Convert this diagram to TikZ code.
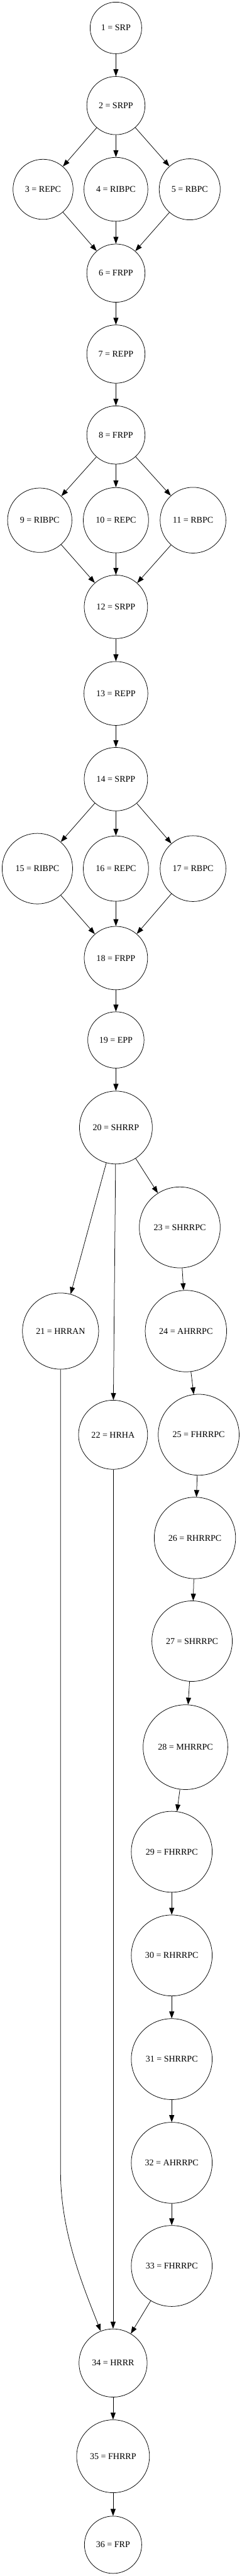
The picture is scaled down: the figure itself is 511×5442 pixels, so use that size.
\documentclass[tikz,border=0pt]{standalone}
\usepackage{fontspec}
\setmainfont{Liberation Serif}
\usetikzlibrary{arrows.meta}
\begin{document}
\begin{tikzpicture}[x=0.75pt,y=-0.75pt,>={Triangle[length=11pt,width=8pt]},line join=round,line width=0.75pt,
		st/.style={circle,draw,inner sep=0pt,minimum size=#1*0.75pt,font=\fontsize{14}{17}\selectfont}]
		\useasboundingbox (0,0) rectangle (511,5442);
		% first block
		\node[st=109] (n1) at (245,59) {1 = SRP};
		\node[st=123] (n2) at (245,223) {2 = SRPP};
		\node[st=127] (n3) at (91,400) {3 = REPC};
		\node[st=135] (n4) at (245,400) {4 = RIBPC};
		\node[st=129] (n5) at (401,400) {5 = RBPC};
		\node[st=123] (n6) at (245,577) {6 = FRPP};
		\node[st=123] (n7) at (245,748) {7 = REPP};
		\node[st=123] (n8) at (245,919) {8 = FRPP};
		\node[st=136] (n9) at (84,1099) {9 = RIBPC};
		\node[st=138] (n10) at (245,1099) {10 = REPC};
		\node[st=139] (n11) at (408,1099) {11 = RBPC};
		\node[st=134] (n12) at (245,1282) {12 = SRPP};
		\node[st=135] (n13) at (245,1465) {13 = REPP};
		\node[st=134] (n14) at (245,1646) {14 = SRPP};
		\node[st=149] (n15) at (79,1835) {15 = RIBPC};
		\node[st=138] (n16) at (245,1835) {16 = REPC};
		\node[st=139] (n17) at (408,1835) {17 = RBPC};
		\node[st=134] (n18) at (245,2024) {18 = FRPP};
		\node[st=119] (n19) at (245,2197) {19 = EPP};
		\node[st=154] (n20) at (245,2382) {20 = SHRRP};
		% branches
		\node[st=161] (n21) at (128,2812) {21 = HRRAN};
		\node[st=146] (n22) at (239,3031) {22 = HRHA};
		\node[st=171] (n23) at (380,2593) {23 = SHRRPC};
		\node[st=172] (n24) at (393,2812) {24 = AHRRPC};
		\node[st=171] (n25) at (420,3031) {25 = FHRRPC};
		\node[st=172] (n26) at (412,3249) {26 = RHRRPC};
		\node[st=170] (n27) at (406,3467) {27 = SHRRPC};
		\node[st=179] (n28) at (392,3691) {28 = MHRRPC};
		\node[st=171] (n29) at (363,3912) {29 = FHRRPC};
		\node[st=171] (n30) at (363,4131) {30 = RHRRPC};
		\node[st=171] (n31) at (363,4350) {31 = SHRRPC};
		\node[st=171] (n32) at (363,4569) {32 = AHRRPC};
		\node[st=171] (n33) at (363,4787) {33 = FHRRPC};
		% last block
		\node[st=144] (n34) at (239,4992) {34 = HRRR};
		\node[st=154] (n35) at (239,5189) {35 = FHRRP};
		\node[st=121] (n36) at (239,5376) {36 = FRP};
		\foreach \a/\b in {1/2,2/3,2/4,2/5,3/6,4/6,5/6,6/7,7/8,8/9,8/10,8/11,9/12,10/12,11/12,
			12/13,13/14,14/15,14/16,14/17,15/18,16/18,17/18,18/19,19/20,20/21,20/22,20/23,
			23/24,24/25,25/26,26/27,27/28,28/29,29/30,30/31,31/32,32/33,33/34,22/34,34/35,35/36}
			\draw[->] (n\a) -- (n\b);
		\coordinate (kink) at (128,4588);
		\draw[->] (n21) -- (kink) .. controls (128,4720) and (180,4840) .. (n34);
	\end{tikzpicture}
\end{document}
